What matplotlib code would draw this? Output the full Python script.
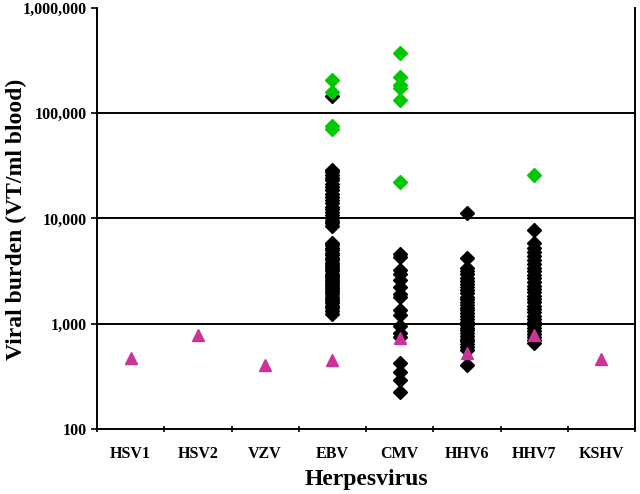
import matplotlib
matplotlib.use("Agg")
import matplotlib.pyplot as plt
from matplotlib.ticker import FixedLocator, NullLocator

categories = ["HSV1", "HSV2", "VZV", "EBV", "CMV", "HHV6", "HHV7", "KSHV"]

# detection-limit / sensitivity triangles (one per virus)
triangle_values = [475, 790, 410, 455, 740, 530, 790, 465]

# black diamonds: individual sample viral loads
black_EBV = [145000, 29000, 27500, 26000, 24500, 23000, 21500, 20000, 18500,
             17000, 16000, 15000, 14000, 13000, 12200, 11500, 10800, 10100,
             9500, 9000, 8500,
             5900, 5600, 5300, 5000, 4750, 4500, 4250, 4000, 3800, 3600,
             3450, 3300, 3150, 3000, 2850, 2700, 2600, 2500, 2400, 2300,
             2200, 2100, 2000, 1900, 1800, 1720, 1640, 1560, 1480, 1400,
             1320, 1250]
black_CMV = [4650, 4300, 3250, 3000, 2600, 2250, 1900, 1800, 1350, 1200,
             960, 820, 750, 420, 345, 290, 225]
black_HHV6 = [11400, 4250, 3350, 3150, 2950, 2750, 2550, 2400, 2250, 2100,
              1950, 1800, 1700, 1600, 1500, 1420, 1340, 1260, 1180, 1100,
              1040, 980, 920, 870, 820, 770, 720, 680, 640, 600, 560, 405]
black_HHV7 = [7700, 5900, 5300, 4800, 4400, 4000, 3700, 3400, 3150, 2900,
              2700, 2500, 2300, 2150, 2000, 1850, 1720, 1600, 1480, 1380,
              1280, 1190, 1110, 1040, 970, 910, 850, 800, 750, 700, 650]

# green diamonds: high viral loads
green_EBV = [206000, 160000, 75000, 71000]
green_CMV = [370000, 220000, 185000, 172000, 133000, 22000]
green_HHV7 = [25700]

y_ticks = [100, 1000, 10000, 100000, 1000000]
y_tick_labels = ["100", "1,000", "10,000", "100,000", "1,000,000"]
grid_values = [1000, 10000, 100000]

black_sets = {"EBV": black_EBV, "CMV": black_CMV, "HHV6": black_HHV6, "HHV7": black_HHV7}
green_sets = {"EBV": green_EBV, "CMV": green_CMV, "HHV7": green_HHV7}

plt.rcParams['font.family'] = ['Liberation Serif', 'DejaVu Serif']
plt.rcParams['font.weight'] = 'bold'

fig = plt.figure(figsize=(6.4, 4.94), dpi=100)
ax = fig.add_axes([97/640, 1-429/494, (635-97)/640, (429-8)/494])

ax.set_yscale('log')
ax.set_ylim(100, 1000000)
ax.set_xlim(-0.5, len(categories) - 0.5)

for g in grid_values:
    ax.axhline(g, color='black', lw=1.4, zorder=1)

for name, vals in black_sets.items():
    i = categories.index(name)
    ax.plot([i]*len(vals), vals, linestyle='none', marker='D', ms=7.3,
            color='black', mec='black', zorder=3)
for name, vals in green_sets.items():
    i = categories.index(name)
    ax.plot([i]*len(vals), vals, linestyle='none', marker='D', ms=7.3,
            color='#00C800', mec='#00C800', zorder=4)
ax.plot(range(len(categories)), triangle_values, linestyle='none', marker='^',
        ms=8.5, color='#CC3399', mec='#CC3399', zorder=5)

ax.yaxis.set_major_locator(FixedLocator(y_ticks))
ax.yaxis.set_minor_locator(NullLocator())
ax.set_yticklabels(y_tick_labels, fontsize=11.5, fontweight='bold')

ax.set_xticks([i + 0.5 for i in range(-1, len(categories))])
ax.set_xticklabels([])
ax.set_xticks(range(len(categories)), minor=True)
ax.set_xticklabels(categories, minor=True, fontsize=11.5, fontweight='bold')
ax.tick_params(axis='x', which='minor', length=0, pad=12)
ax.tick_params(axis='x', which='major', length=4, width=1.2, direction='inout')
ax.tick_params(axis='y', which='major', length=4, width=1.2, pad=3)

ax.spines['top'].set_visible(False)
for s in ['left', 'bottom', 'right']:
    ax.spines[s].set_linewidth(1.4)

fig.text(16/640, 1-219/494, "Viral burden (VT/ml blood)", rotation=90,
         ha='center', va='center', fontsize=17, fontweight='bold')
fig.text(366/640, 1-479/494, "Herpesvirus", ha='center', va='center',
         fontsize=17, fontweight='bold')

fig.savefig("out.png", dpi=100)
